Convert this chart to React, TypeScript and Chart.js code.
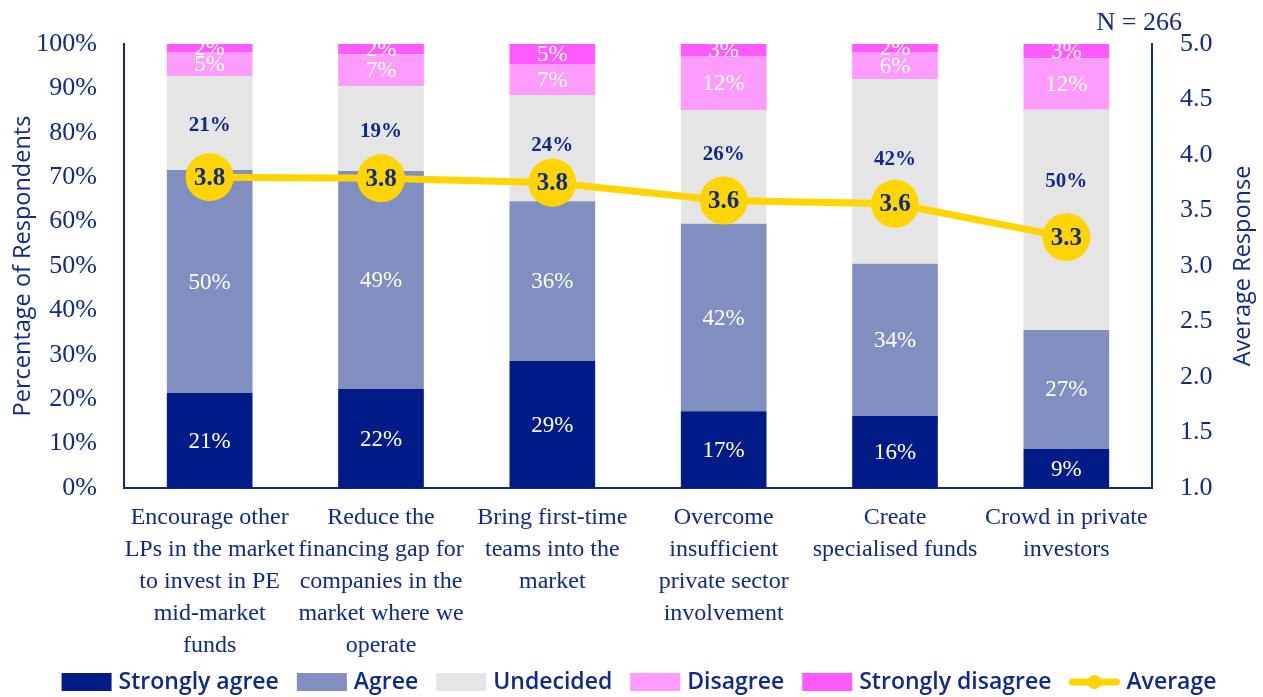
import React, { useEffect, useRef } from "react";
import { Chart, registerables } from "chart.js";

Chart.register(...registerables);

const categories: string[][] = [
  ["Encourage other", "LPs in the market", "to invest in PE", "mid-market", "funds"],
  ["Reduce the", "financing gap for", "companies in the", "market where we", "operate"],
  ["Bring first-time", "teams into the", "market"],
  ["Overcome", "insufficient", "private sector", "involvement"],
  ["Create", "specialised funds"],
  ["Crowd in private", "investors"],
];

const stronglyAgree = [21.4, 22.3, 28.6, 17.3, 16.2, 8.8];
const agree = [50.2, 49.1, 36.0, 42.2, 34.3, 26.8];
const undecided = [21.2, 19.1, 23.9, 25.6, 41.6, 49.6];
const disagree = [5.4, 7.2, 7.0, 12.2, 6.1, 11.6];
const stronglyDisagree = [1.8, 2.3, 4.5, 2.7, 1.8, 3.2];
const average = [3.8, 3.79, 3.75, 3.59, 3.56, 3.26];

const leftTicks = [0, 10, 20, 30, 40, 50, 60, 70, 80, 90, 100];
const rightTicks = [1.0, 1.5, 2.0, 2.5, 3.0, 3.5, 4.0, 4.5, 5.0];

const seriesNames = ["Strongly agree", "Agree", "Undecided", "Disagree", "Strongly disagree"];
const lineName = "Average";
const sampleNote = "N = 266";
const leftTitle = "Percentage of Respondents";
const rightTitle = "Average Response";

const NAVY = "#0f2a8a";
const COLORS = ["#021c87", "#808fc0", "#e5e5e5", "#fd9cfd", "#ff5aff"];
const YELLOW = "#ffd400";
const SERIF = "'Liberation Serif', 'DejaVu Serif', serif";
const SANS = "'Open Sans', 'Liberation Sans', sans-serif";

// pixel nudges for the "Undecided" labels (moved clear of the average markers)
const UNDECIDED_NUDGE = [2, 2, -4, -13, -13, -39];

const W = 1263;
const H = 697;

const overlayPlugin = {
  id: "overlay",
  afterDatasetsDraw(chart: any) {
    const ctx = chart.ctx;
    ctx.save();
    ctx.textAlign = "center";
    ctx.textBaseline = "middle";
    for (let d = 0; d < 5; d++) {
      const meta = chart.getDatasetMeta(d);
      const data = chart.data.datasets[d].data as number[];
      if (d === 2) {
        ctx.fillStyle = NAVY;
        ctx.font = "bold 21px " + SERIF;
      } else {
        ctx.fillStyle = "#ffffff";
        ctx.font = "23px " + SERIF;
      }
      meta.data.forEach((el: any, i: number) => {
        let cy = (el.y + el.base) / 2;
        if (d === 2) cy += UNDECIDED_NUDGE[i];
        ctx.fillText(Math.round(data[i]) + "%", el.x, cy + 1);
      });
    }
    const lmeta = chart.getDatasetMeta(5);
    const ldata = chart.data.datasets[5].data as number[];
    ctx.fillStyle = NAVY;
    ctx.font = "bold 25px " + SERIF;
    lmeta.data.forEach((el: any, i: number) => {
      ctx.fillText(ldata[i].toFixed(1), el.x, el.y + 1);
    });
    ctx.restore();
  },
  afterDraw(chart: any) {
    const ctx = chart.ctx;
    const area = chart.chartArea;
    const midY = (area.top + area.bottom) / 2;
    ctx.save();
    ctx.fillStyle = NAVY;
    ctx.font = "500 23.5px " + SANS;
    ctx.textAlign = "center";
    ctx.textBaseline = "middle";
    ctx.save();
    ctx.translate(23, midY);
    ctx.rotate(-Math.PI / 2);
    ctx.fillText(leftTitle, 0, 0);
    ctx.restore();
    ctx.save();
    ctx.translate(1243, midY);
    ctx.rotate(-Math.PI / 2);
    ctx.fillText(rightTitle, 0, 0);
    ctx.restore();

    ctx.font = "26px " + SERIF;
    ctx.textAlign = "right";
    ctx.fillText(sampleNote, 1182, 23);

    ctx.font = "600 23px " + SANS;
    ctx.textAlign = "left";
    const boxW = 50;
    const boxH = 18;
    const gapBox = 7;
    const gapItem = 18;
    const names = [...seriesNames, lineName];
    const widths = names.map((n) => boxW + gapBox + ctx.measureText(n).width);
    const total = widths.reduce((a, b) => a + b, 0) + gapItem * (names.length - 1);
    let x = 639 - total / 2;
    const cy = 682;
    names.forEach((n, i) => {
      if (i < 5) {
        ctx.fillStyle = COLORS[i];
        ctx.fillRect(x, cy - boxH / 2, boxW, boxH);
      } else {
        ctx.strokeStyle = YELLOW;
        ctx.lineWidth = 7;
        ctx.lineCap = "round";
        ctx.beginPath();
        ctx.moveTo(x + 3, cy);
        ctx.lineTo(x + boxW - 3, cy);
        ctx.stroke();
        ctx.fillStyle = YELLOW;
        ctx.beginPath();
        ctx.arc(x + boxW / 2, cy, 7, 0, Math.PI * 2);
        ctx.fill();
      }
      ctx.fillStyle = NAVY;
      ctx.textBaseline = "middle";
      ctx.fillText(n, x + boxW + gapBox, cy);
      x += widths[i] + gapItem;
    });
    ctx.restore();
  },
};

export default function App() {
  const ref = useRef<HTMLCanvasElement | null>(null);

  useEffect(() => {
    if (!ref.current) return;
    const barDs = [stronglyAgree, agree, undecided, disagree, stronglyDisagree].map((vals, i) => ({
      type: "bar" as const,
      label: seriesNames[i],
      data: vals,
      backgroundColor: COLORS[i],
      borderWidth: 0,
      yAxisID: "y",
      order: 1,
      stack: "s",
    }));
    const chart = new Chart(ref.current, {
      type: "bar",
      data: {
        labels: categories,
        datasets: [
          ...barDs,
          {
            type: "line" as const,
            label: lineName,
            data: average,
            borderColor: YELLOW,
            backgroundColor: YELLOW,
            borderWidth: 7,
            pointRadius: 24,
            pointHoverRadius: 24,
            pointBackgroundColor: YELLOW,
            pointBorderWidth: 0,
            yAxisID: "y2",
            order: 0,
          } as any,
        ],
      },
      options: {
        responsive: false,
        animation: false,
        events: [],
        layout: { padding: { top: 44, left: 0, right: 0, bottom: 0 } },
        datasets: { bar: { barPercentage: 0.5, categoryPercentage: 1 } },
        plugins: {
          legend: { display: false },
          tooltip: { enabled: false },
          title: { display: false },
        },
        scales: {
          x: {
            stacked: true,
            grid: { display: false, drawTicks: false },
            border: { display: true, color: NAVY, width: 2 },
            ticks: {
              color: NAVY,
              font: { family: SERIF, size: 24, lineHeight: 1.33 },
              padding: 14,
              maxRotation: 0,
              autoSkip: false,
            },
            afterFit: (s: any) => {
              s.height = 209;
            },
          },
          y: {
            stacked: true,
            position: "left",
            min: 0,
            max: 100,
            afterBuildTicks: (s: any) => {
              s.ticks = leftTicks.map((v) => ({ value: v }));
            },
            grid: { display: false, drawTicks: false },
            border: { display: true, color: NAVY, width: 2 },
            ticks: {
              color: NAVY,
              font: { family: SERIF, size: 26 },
              padding: 27,
              callback: (v: any) => v + "%",
            },
            afterFit: (s: any) => {
              s.width = 124;
            },
          },
          y2: {
            position: "right",
            min: 1,
            max: 5,
            afterBuildTicks: (s: any) => {
              s.ticks = rightTicks.map((v) => ({ value: v }));
            },
            grid: { display: false, drawTicks: false },
            border: { display: true, color: NAVY, width: 2 },
            ticks: {
              color: NAVY,
              font: { family: SERIF, size: 26 },
              padding: 28,
              callback: (v: any) => Number(v).toFixed(1),
            },
            afterFit: (s: any) => {
              s.width = 111;
            },
          },
        },
      } as any,
      plugins: [overlayPlugin],
    });
    return () => chart.destroy();
  }, []);

  return (
    <div style={{ position: "absolute", left: 0, top: 0, width: W, height: H, background: "#fff" }}>
      <canvas ref={ref} width={W} height={H} style={{ display: "block", width: W, height: H }} />
    </div>
  );
}
